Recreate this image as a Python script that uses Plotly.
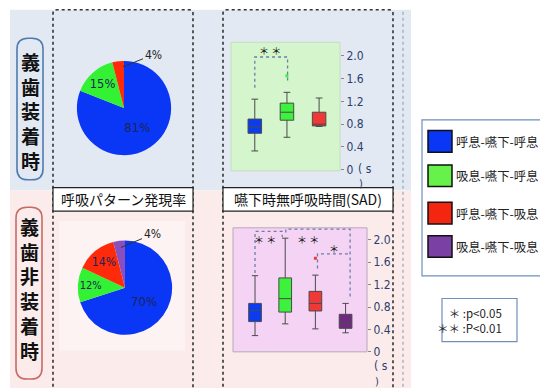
import plotly.graph_objects as go

W, H = 540, 388

# ---------------- data ----------------
pattern_labels = ["呼息-嚥下-呼息", "吸息-嚥下-呼息", "呼息-嚥下-吸息", "吸息-嚥下-吸息"]
row_labels = ["義歯装着時", "義歯非装着時"]
panel_titles = ["呼吸パターン発現率", "嚥下時無呼吸時間(SAD)"]

# pattern occurrence rate (%)
pie_with = [81, 15, 4]          # 義歯装着時 (no 吸息-嚥下-吸息)
pie_without = [70, 12, 14, 4]   # 義歯非装着時

# SAD box statistics (s): lower whisker, Q1, median, Q3, upper whisker
sad_with_low = [0.33, 0.57, 0.76]
sad_with_q1 = [0.64, 0.87, 0.77]
sad_with_med = [0.75, 1.01, 0.80]
sad_with_q3 = [0.89, 1.17, 1.01]
sad_with_high = [1.24, 1.36, 1.26]
sad_with_outlier = [None, 1.65, None]

sad_without_low = [0.29, 0.50, 0.41, 0.34]
sad_without_q1 = [0.54, 0.71, 0.73, 0.42]
sad_without_med = [0.74, 0.95, 0.865, 0.51]
sad_without_q3 = [0.865, 1.32, 1.08, 0.67]
sad_without_high = [1.36, 2.03, 1.37, 0.865]
sad_without_outlier = [None, None, 1.67, None]

sad_ticks = [0, 0.4, 0.8, 1.2, 1.6, 2.0]
sad_ticktext = ["0", "0.4", "0.8", "1.2", "1.6", "2.0"]

# significance brackets: (x path, y path, label, label x, label y)
sig_with = [([0, 0, 1.02, 1.02], [1.44, 1.98, 1.98, 1.53], "＊ ＊", 0.48, 2.09)]
sig_without = [
    ([0, 0, 0.9, 0.9], [1.41, 2.15, 2.15, 2.05], "＊ ＊", 0.34, 2.00),
    ([1.02, 1.02, 3.15, 3.15], [2.13, 2.19, 2.19, 0.95], "＊ ＊", 1.77, 2.00),
    ([2.07, 2.07, 3.12], [1.49, 1.75, 1.75], "＊", 2.60, 1.84),
]
pvalue_text = "＊ :p<0.05<br>＊＊ :P<0.01"

# ---------------- styles ----------------
pie_colors = ["#0a37f5", "#33f233", "#ff2a0a", "#8a4fbf"]
box_colors = ["#0a3cf0", "#3cf23c", "#f03838", "#6e2a80"]
legend_colors = ["#0a37f5", "#66f24a", "#f5260f", "#7a40a3"]
CJK = "Noto Sans CJK JP, sans-serif"
NARROW = "Liberation Sans Narrow, DejaVu Sans Condensed, Arial Narrow, Arial, sans-serif"


def X(x):
    return x / W


def Y(y):
    return 1 - y / H


def P(x, y):
    return f"{X(x):.5f},{Y(y):.5f}"


def rrect_path(x0, y0, x1, y1, r):
    return (f"M {P(x0 + r, y0)} L {P(x1 - r, y0)} Q {P(x1, y0)} {P(x1, y0 + r)} "
            f"L {P(x1, y1 - r)} Q {P(x1, y1)} {P(x1 - r, y1)} L {P(x0 + r, y1)} "
            f"Q {P(x0, y1)} {P(x0, y1 - r)} L {P(x0, y0 + r)} Q {P(x0, y0)} {P(x0 + r, y0)} Z")


def open_panel(x0, x1, top, r=4):
    return (f"M {P(x0, 400)} L {P(x0, top + r)} Q {P(x0, top)} {P(x0 + r, top)} "
            f"L {P(x1 - r, top)} Q {P(x1, top)} {P(x1, top + r)} L {P(x1, 400)}")


shapes = []
annotations = []


def rect(x0, y0, x1, y1, fill="rgba(0,0,0,0)", line="rgba(0,0,0,0)", lw=1, dash="solid"):
    shapes.append(dict(type="rect", xref="paper", yref="paper", x0=X(x0), x1=X(x1),
                       y0=Y(y1), y1=Y(y0), fillcolor=fill,
                       line=dict(color=line, width=lw, dash=dash), layer="below"))


def text(x, y, t, size, family=CJK, color="#111111", xanchor="center", yanchor="middle", align="center"):
    annotations.append(dict(x=X(x), y=Y(y), xref="paper", yref="paper", text=t, showarrow=False,
                            xanchor=xanchor, yanchor=yanchor, align=align,
                            font=dict(family=family, size=size, color=color)))


# background bands
rect(10, 10, 411, 194, fill="#e2e9f3")
rect(10, 194, 411, 400, fill="#fbeceb")
rect(59, 225, 185, 357, fill="#fdf3f2")

# box plot areas
rect(231, 43, 340, 174, fill="#d5f5cc", line="#c6dcc0")
rect(233, 232, 367, 358.3, fill="#f5d3f5", line="#b8a8b8")

# dotted panels
for x0, x1 in [(53, 193), (223, 393)]:
    shapes.append(dict(type="path", xref="paper", yref="paper", path=open_panel(x0, x1, 10),
                       line=dict(color="#333333", width=1.6, dash="dot"), layer="below"))
shapes.append(dict(type="line", xref="paper", yref="paper", x0=X(403), x1=X(403), y0=Y(12), y1=Y(400),
                   line=dict(color="#8a96a8", width=1, dash="dot"), layer="below"))

# row label boxes
shapes.append(dict(type="path", xref="paper", yref="paper", path=rrect_path(17, 39, 43, 183, 11),
                   line=dict(color="#4f7cae", width=1.6), layer="below"))
shapes.append(dict(type="path", xref="paper", yref="paper", path=rrect_path(16, 211, 42, 386, 11),
                   line=dict(color="#c86a64", width=1.6), layer="below"))

# title boxes
rect(53, 191, 193, 215, fill="white", line="#222222", lw=1.2)
rect(223, 191, 393, 215, fill="white", line="#222222", lw=1.2)

# legend box
rect(422, 122, 560, 281, fill="white", line="#6f8fbf", lw=1.2)
sw_y = [133, 168, 206, 240]
for i, lab in enumerate(pattern_labels):
    rect(428, sw_y[i], 452, sw_y[i] + 22, fill=legend_colors[i], line="#111111", lw=1.5)
    text(454, sw_y[i] + 11.5, lab, 12.3, color="#222222", xanchor="left")

# p-value box
rect(442, 304, 517, 348, fill="white", line="#6f8fbf", lw=1.2)
text(504, 326, pvalue_text, 11.5, color="#222222", xanchor="right", align="right")

# titles
text(123, 203, panel_titles[0], 14)
text(308, 203, panel_titles[1], 14)

# row labels (vertical)
text(30, 113, "<br>".join(f"<b>{c}</b>" for c in row_labels[0]), 19)
text(29, 294, "<br>".join(f"<b>{c}</b>" for c in row_labels[1]), 19)

fig = go.Figure()

# ---------------- pies ----------------
R = 48


def pie_domain(cx, cy):
    return dict(x=[X(cx - R), X(cx + R)], y=[Y(cy + R), Y(cy - R)])


fig.add_trace(go.Pie(values=pie_with, labels=pattern_labels[:3], sort=False, direction="clockwise",
                     rotation=0, domain=pie_domain(124, 110),
                     marker=dict(colors=pie_colors[:3], line=dict(width=0)),
                     texttemplate=["%{value}%", "%{value}%", ""], textposition="inside",
                     insidetextorientation="horizontal",
                     textfont=dict(family=NARROW, size=13, color="#1c2458"),
                     showlegend=False, hoverinfo="skip"))
fig.add_trace(go.Pie(values=pie_without, labels=pattern_labels, sort=False, direction="clockwise",
                     rotation=0, domain=pie_domain(125, 293),
                     marker=dict(colors=pie_colors, line=dict(width=0)),
                     texttemplate=["%{value}%", "%{value}%", "%{value}%", ""], textposition="inside",
                     insidetextorientation="horizontal",
                     textfont=dict(family=NARROW, size=13, color="#1c2458"),
                     showlegend=False, hoverinfo="skip"))

annotations.append(dict(x=X(123), y=Y(68), xref="paper", yref="paper", text=f"{pie_with[2]}%",
                        showarrow=True, arrowhead=0, arrowwidth=1, arrowcolor="#333333", ax=30, ay=-12,
                        font=dict(family=NARROW, size=12, color="#222222")))
annotations.append(dict(x=X(121), y=Y(252), xref="paper", yref="paper", text=f"{pie_without[3]}%",
                        showarrow=True, arrowhead=0, arrowwidth=1, arrowcolor="#333333", ax=31, ay=-13,
                        font=dict(family=NARROW, size=12, color="#222222")))

# ---------------- box plots ----------------
def add_boxes(low, q1, med, q3, high, outl, xa, ya):
    for i in range(len(med)):
        fig.add_trace(go.Box(x=[i], lowerfence=[low[i]], q1=[q1[i]], median=[med[i]], q3=[q3[i]],
                             upperfence=[high[i]], width=0.42, whiskerwidth=0.5,
                             fillcolor=box_colors[i], line=dict(color="#4a4a4a", width=1),
                             boxpoints=False, showlegend=False, hoverinfo="skip",
                             xaxis=xa, yaxis=ya))
        if outl[i] is not None:
            fig.add_trace(go.Scatter(x=[i], y=[outl[i]], mode="markers",
                                     marker=dict(color=box_colors[i], size=3, symbol="square"),
                                     showlegend=False, hoverinfo="skip", xaxis=xa, yaxis=ya))


add_boxes(sad_with_low, sad_with_q1, sad_with_med, sad_with_q3, sad_with_high, sad_with_outlier, "x", "y")
add_boxes(sad_without_low, sad_without_q1, sad_without_med, sad_without_q3, sad_without_high,
          sad_without_outlier, "x2", "y2")


def add_sig(sigs, xa, ya):
    for xs, ys, lab, lx, ly in sigs:
        fig.add_trace(go.Scatter(x=xs, y=ys, mode="lines",
                                 line=dict(color="#6a7fa8", width=1.3, dash="dot"),
                                 showlegend=False, hoverinfo="skip", xaxis=xa, yaxis=ya))
        annotations.append(dict(x=lx, y=ly, xref=xa, yref=ya, text=lab, showarrow=False,
                                xanchor="center", yanchor="middle",
                                font=dict(family=CJK, size=10, color="#111111")))


add_sig(sig_with, "x", "y")
add_sig(sig_without, "x2", "y2")

# unit labels
UNIT = "#2c3e6e"
text(356, 172, "( s", 12, family=NARROW, color=UNIT, xanchor="left")
text(357, 187, ")", 11, family=NARROW, color=UNIT, xanchor="left")
text(372, 373, "( s", 12, family=NARROW, color=UNIT, xanchor="left")
text(373, 389, ")", 11, family=NARROW, color=UNIT, xanchor="left")

yax = dict(side="right", tickvals=sad_ticks, ticktext=sad_ticktext, showgrid=False, zeroline=False,
           ticks="outside", ticklen=3, tickcolor="#888888", showline=False,
           tickfont=dict(family=NARROW, size=12, color=UNIT))

fig.update_layout(
    width=W, height=H, margin=dict(l=0, r=0, t=0, b=0),
    paper_bgcolor="white", plot_bgcolor="rgba(0,0,0,0)",
    xaxis=dict(domain=[X(231), X(340)], range=[-0.74, 2.65], visible=False, anchor="y"),
    yaxis=dict(domain=[Y(174), Y(43)], range=[-0.02, 2.24], anchor="x", **yax),
    xaxis2=dict(domain=[X(233), X(367)], range=[-0.73, 3.71], visible=False, anchor="y2"),
    yaxis2=dict(domain=[Y(358.3), Y(232)], range=[0, 2.215], anchor="x2", **yax),
    shapes=shapes, annotations=annotations, showlegend=False,
)

fig.write_html("out.html")
